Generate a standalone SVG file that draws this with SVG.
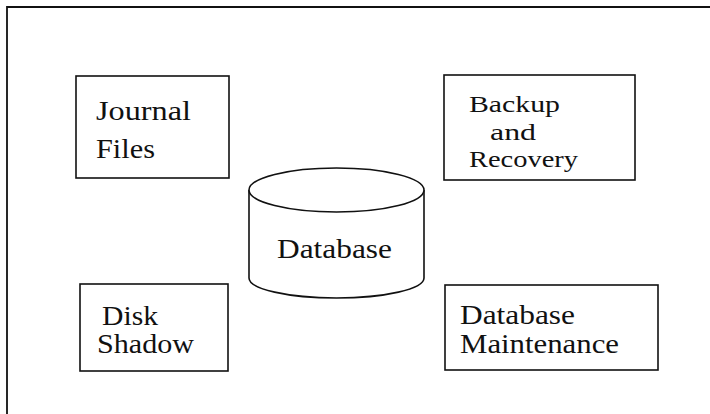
<svg xmlns="http://www.w3.org/2000/svg" width="710" height="414" viewBox="0 0 710 414">
<style>
.b{fill:#fff;stroke:#111;stroke-width:1.6}
.t{font-family:"Liberation Serif","Times New Roman",serif;font-size:27px;fill:#111}
.s{font-size:24px}
.f{fill:none;stroke:#111;stroke-width:1.8}
</style>
<rect width="710" height="414" fill="#fff"/>
<path class="f" d="M7,414 V7 H710"/>
<g id="journal">
<rect class="b" x="76" y="76" width="153" height="102"/>
<text class="t" x="96" y="120" textLength="95" lengthAdjust="spacingAndGlyphs">Journal</text>
<text class="t" x="96" y="158" textLength="59" lengthAdjust="spacingAndGlyphs">Files</text>
</g>
<g id="backup">
<rect class="b" x="444" y="75" width="191" height="105"/>
<text class="t s" x="469" y="112" textLength="91" lengthAdjust="spacingAndGlyphs">Backup</text>
<text class="t s" x="490" y="139.5" textLength="46" lengthAdjust="spacingAndGlyphs">and</text>
<text class="t s" x="469" y="167" textLength="109" lengthAdjust="spacingAndGlyphs">Recovery</text>
</g>
<g id="database">
<path class="b" d="M249,190 V278 A87.5,20 0 0 0 424,278 V190"/>
<ellipse class="b" cx="336.5" cy="190" rx="87.5" ry="22"/>
<text class="t" x="277" y="258" textLength="115" lengthAdjust="spacingAndGlyphs">Database</text>
</g>
<g id="disk">
<rect class="b" x="80" y="284" width="148" height="87"/>
<text class="t" x="102" y="325" textLength="56" lengthAdjust="spacingAndGlyphs">Disk</text>
<text class="t" x="97" y="353" textLength="97" lengthAdjust="spacingAndGlyphs">Shadow</text>
</g>
<g id="maintenance">
<rect class="b" x="445" y="285" width="213" height="85"/>
<text class="t" x="460" y="324" textLength="115" lengthAdjust="spacingAndGlyphs">Database</text>
<text class="t" x="460" y="353" textLength="159" lengthAdjust="spacingAndGlyphs">Maintenance</text>
</g>
<g id="connectors"></g>
</svg>
